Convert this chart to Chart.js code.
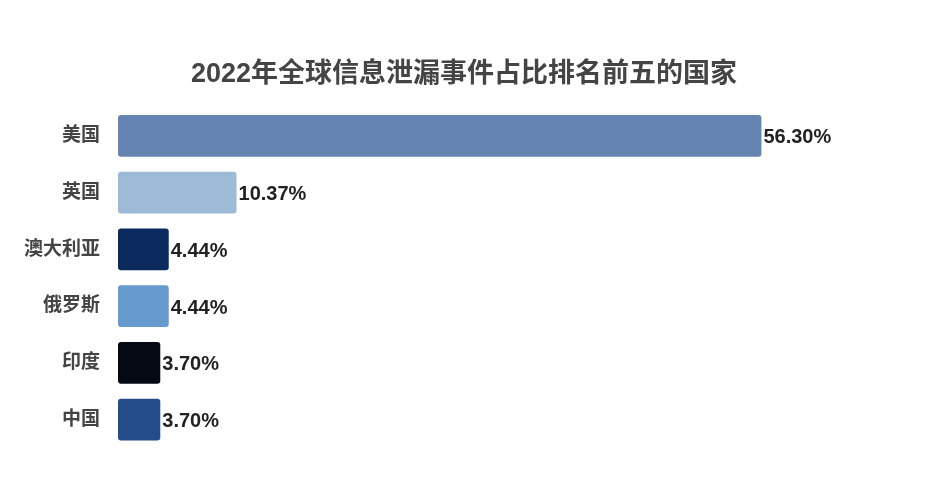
<!DOCTYPE html>
<html>
<head>
<meta charset="utf-8">
<script src="https://cdn.jsdelivr.net/npm/chart.js@4"></script>
<style>
  html, body { margin: 0; padding: 0; background: #fff; }
  #wrap { width: 928px; height: 500px; }
</style>
</head>
<body>
<div id="wrap"><canvas id="leakChart"></canvas></div>
<script>
const countries = ["美国", "英国", "澳大利亚", "俄罗斯", "印度", "中国"];
const shares = [56.30, 10.37, 4.44, 4.44, 3.70, 3.70];
const barColors = ["#6684b2", "#9dbad7", "#0b2b5f", "#6699cc", "#050913", "#244c88"];

const FONT = '"Liberation Sans", "Noto Sans CJK SC", sans-serif';

// draw the percentage text right after each bar
const valueLabels = {
    id: "valueLabels",
    afterDatasetsDraw(chart) {
        const c = chart.ctx;
        const meta = chart.getDatasetMeta(0);
        c.save();
        c.font = "bold 20px " + FONT;
        c.fillStyle = "#222";
        c.textAlign = "left";
        c.textBaseline = "middle";
        meta.data.forEach((bar, i) => {
            c.fillText(shares[i].toFixed(2) + "%", bar.x + 2, bar.y + 2);
        });
        c.restore();
    }
};

new Chart(document.getElementById("leakChart"), {
    type: "bar",
    data: {
        labels: countries,
        datasets: [{
            data: shares,
            backgroundColor: barColors,
            borderRadius: 3,
            borderSkipped: false,
            barPercentage: 0.92,
            categoryPercentage: 0.8
        }]
    },
    options: {
        indexAxis: "y",
        responsive: true,
        maintainAspectRatio: false,
        animation: false,
        layout: { padding: { top: 42, right: 10, bottom: 52, left: 10 } },
        plugins: {
            legend: { display: false },
            tooltip: { enabled: false },
            title: {
                display: true,
                text: "2022年全球信息泄漏事件占比排名前五的国家",
                color: "#444",
                font: { family: FONT, size: 27, weight: "bold" },
                padding: { top: 16, bottom: 17 }
            }
        },
        scales: {
            x: {
                display: false,
                min: 0,
                max: 70
            },
            y: {
                grid: { display: false },
                border: { display: false },
                ticks: {
                    color: "#444",
                    padding: 10,
                    font: { family: FONT, size: 19, weight: "bold" }
                },
                afterFit(scale) { scale.width = 108; }
            }
        }
    },
    plugins: [valueLabels]
});
</script>
</body>
</html>
